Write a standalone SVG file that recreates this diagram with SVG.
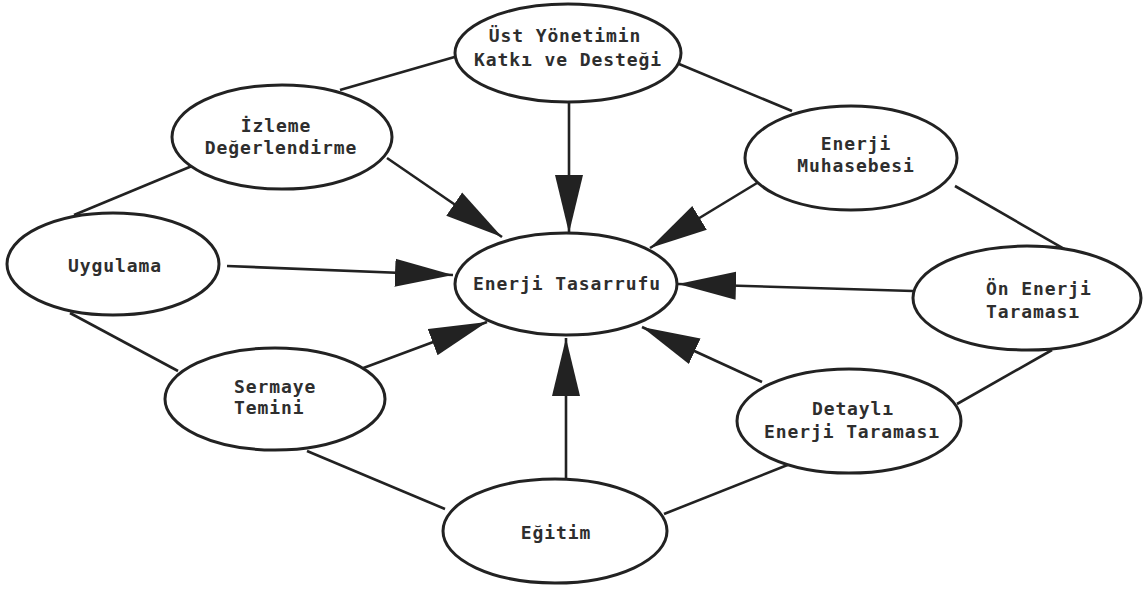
<svg xmlns="http://www.w3.org/2000/svg" width="1143" height="590" viewBox="0 0 1143 590">
<style>
.n ellipse{fill:#fff;stroke:#222;stroke-width:3}
.c line{stroke:#222;stroke-width:2.6;fill:none}
.c line.a{marker-end:url(#ah)}
text{font-family:"DejaVu Sans Mono","Liberation Mono",monospace;font-size:18px;font-weight:bold;fill:#2e2e2e;letter-spacing:0.9px}
</style>
<defs>
<marker id="ah" markerUnits="userSpaceOnUse" markerWidth="58" markerHeight="30" refX="58" refY="15" orient="auto">
<path d="M0,1 L58,15 L0,29 Z" fill="#222"/>
</marker>
</defs>
<rect width="1143" height="590" fill="#fff"/>
<g class="c" id="connectors">
<line x1="340" y1="90" x2="458" y2="56"/>
<line x1="679" y1="64" x2="792" y2="111"/>
<line x1="192" y1="166" x2="74" y2="215"/>
<line x1="955" y1="186" x2="1132" y2="288"/>
<line x1="1052" y1="350" x2="957" y2="404"/>
<line x1="790" y1="464" x2="664" y2="514"/>
<line x1="445" y1="509" x2="307" y2="451"/>
<line x1="178" y1="371" x2="70" y2="313"/>
<line class="a" x1="569" y1="101" x2="569" y2="233"/>
<line class="a" x1="387" y1="158" x2="502" y2="237"/>
<line class="a" x1="757" y1="183" x2="650" y2="248"/>
<line class="a" x1="227" y1="266" x2="453" y2="275"/>
<line class="a" x1="913" y1="291" x2="678" y2="284"/>
<line class="a" x1="762" y1="382" x2="642" y2="327"/>
<line class="a" x1="358" y1="370" x2="487" y2="322"/>
<line class="a" x1="566" y1="479" x2="566" y2="338"/>
</g>
<g class="n" id="ust">
<ellipse cx="568" cy="53" rx="113" ry="49"/>
<text x="565" y="42" text-anchor="middle">Üst Yönetimin</text>
<text x="568" y="66" text-anchor="middle">Katkı ve Desteği</text>
</g>
<g class="n" id="izleme">
<ellipse cx="282" cy="137" rx="110" ry="52"/>
<text x="276" y="132" text-anchor="middle">İzleme</text>
<text x="281" y="154" text-anchor="middle">Değerlendirme</text>
</g>
<g class="n" id="muhasebe">
<ellipse cx="851" cy="158" rx="106" ry="52"/>
<text x="856" y="150" text-anchor="middle">Enerji</text>
<text x="856" y="172" text-anchor="middle">Muhasebesi</text>
</g>
<g class="n" id="uygulama">
<ellipse cx="113" cy="264" rx="106" ry="51"/>
<text x="115" y="272" text-anchor="middle">Uygulama</text>
</g>
<g class="n" id="tasarruf">
<ellipse cx="566" cy="284" rx="111" ry="51"/>
<text x="567" y="290" text-anchor="middle">Enerji Tasarrufu</text>
</g>
<g class="n" id="on">
<ellipse cx="1027" cy="298" rx="114" ry="52"/>
<text x="986" y="295">Ön Enerji</text>
<text x="986" y="318">Taraması</text>
</g>
<g class="n" id="sermaye">
<ellipse cx="275" cy="399" rx="110" ry="51"/>
<text x="234" y="393">Sermaye</text>
<text x="234" y="414">Temini</text>
</g>
<g class="n" id="detayli">
<ellipse cx="849" cy="421" rx="112" ry="52"/>
<text x="853" y="415" text-anchor="middle">Detaylı</text>
<text x="852" y="438" text-anchor="middle">Enerji Taraması</text>
</g>
<g class="n" id="egitim">
<ellipse cx="555" cy="531" rx="112" ry="52"/>
<text x="556" y="539" text-anchor="middle">Eğitim</text>
</g>
</svg>
